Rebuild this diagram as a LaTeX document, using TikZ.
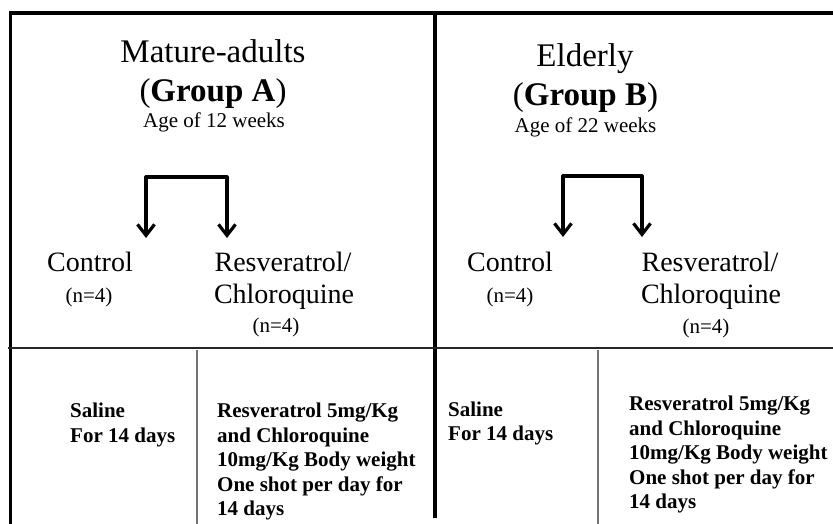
\documentclass[tikz,border=0pt]{standalone}
\usepackage{fontspec}
\setmainfont{Liberation Serif}
\usetikzlibrary{arrows.meta}
\tikzset{
  frame/.style={line width=3.5pt, line join=miter, line cap=rect},
  midline/.style={line width=4pt},
  hline/.style={line width=1.2pt, draw=black!85},
  vline/.style={line width=1.5pt, draw=black!55},
  title/.style={anchor=base, inner sep=0pt, font=\fontsize{33}{36}\selectfont},
  age/.style={anchor=base, inner sep=0pt, font=\fontsize{21}{24}\selectfont},
  grp/.style={anchor=base, inner sep=0pt, font=\fontsize{28}{32}\selectfont},
  cnt/.style={anchor=base, inner sep=0pt, font=\fontsize{21}{24}\selectfont},
  treat/.style={anchor=north west, inner sep=0pt, align=left, font=\fontsize{21}{24.5}\selectfont\bfseries},
  bracket/.style={line width=3.2pt, line join=round, {Straight Barb[length=11pt,width=17pt]}-{Straight Barb[length=11pt,width=17pt]}}
}
\begin{document}
\begin{tikzpicture}[x=1pt,y=-1pt]
\useasboundingbox (0,0) rectangle (833,524);
% frame
\coordinate (fl) at (10.5,524);
\coordinate (fc) at (10.5,13);
\coordinate (fr) at (833,13);
\draw[frame] (fl) -- (fc) -- (fr);
\coordinate (mt) at (434.5,13);
\coordinate (mb) at (434.5,518);
\draw[midline] (mt) -- (mb);
\coordinate (hl) at (8,348);
\coordinate (hr) at (833,348);
\draw[hline] (hl) -- (hr);
\coordinate (v1t) at (197,350);
\coordinate (v1b) at (197,524);
\coordinate (v2t) at (598,350);
\coordinate (v2b) at (598,524);
\draw[vline] (v1t) -- (v1b);
\draw[vline] (v2t) -- (v2b);

% Group A header
\node[title] (a1) at (213,63) {Mature-adults};
\node[title] (a2) at (213,102) {(\textbf{Group A})};
\node[age] (a3) at (214,128) {Age of 12 weeks};
% Group B header
\node[title] (b1) at (585,67) {Elderly};
\node[title] (b2) at (585.5,106) {(\textbf{Group B})};
\node[age] (b3) at (585.5,133) {Age of 22 weeks};

% subgroup labels A
\node[grp] (ac) at (90,271) {Control};
\node[cnt] (acn) at (89,302) {(n=4)};
\node[grp] (ar1) at (283,271) {Resveratrol/};
\node[grp] (ar2) at (284,303) {Chloroquine};
\node[cnt] (arn) at (276,332) {(n=4)};
% subgroup labels B
\node[grp] (bc) at (510,271) {Control};
\node[cnt] (bcn) at (510,302) {(n=4)};
\node[grp] (br1) at (710,271) {Resveratrol/};
\node[grp] (br2) at (711,303) {Chloroquine};
\node[cnt] (brn) at (706,333) {(n=4)};

% brackets
\coordinate (aL) at (146,238);
\coordinate (aLt) at (146,177);
\coordinate (aRt) at (227,177);
\coordinate (aR) at (227,238);
\draw[bracket] (aL) -- (aLt) -- (aRt) -- (aR);
\coordinate (bL) at (563,237);
\coordinate (bLt) at (563,176);
\coordinate (bRt) at (642,176);
\coordinate (bR) at (642,237);
\draw[bracket] (bL) -- (bLt) -- (bRt) -- (bR);

% treatments
\node[treat] (as) at (70,403) {Saline\\For 14 days};
\node[treat] (at) at (217,403) {Resveratrol 5mg/Kg\\and Chloroquine\\10mg/Kg Body weight\\One shot per day for\\14 days};
\node[treat] (bs) at (448,401.5) {Saline\\For 14 days};
\node[treat] (bt) at (629,396) {Resveratrol 5mg/Kg\\and Chloroquine\\10mg/Kg Body weight\\One shot per day for\\14 days};
\end{tikzpicture}
\end{document}
